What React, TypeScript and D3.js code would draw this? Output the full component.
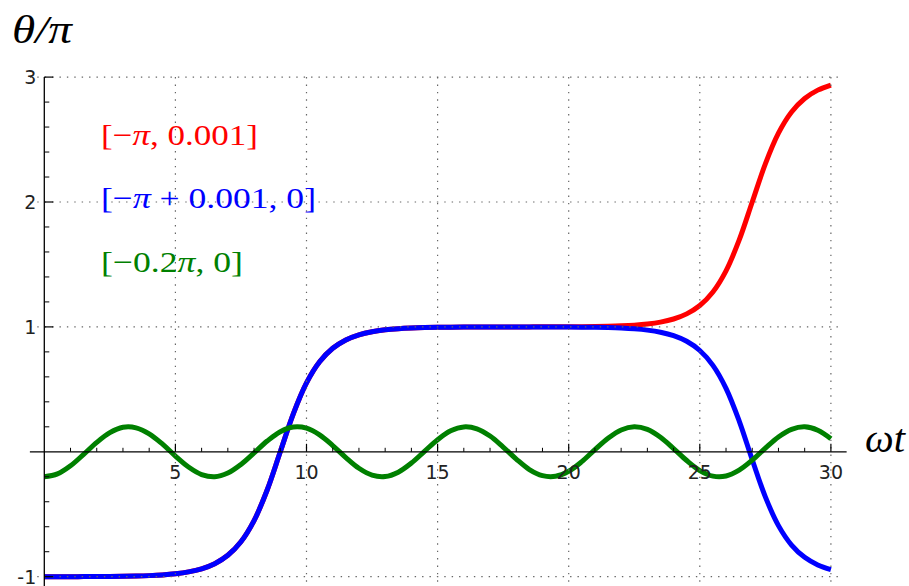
import React from "react";
import * as d3 from "d3";

const tValues = [
  0, 0.5, 1, 1.5, 2, 2.5, 3, 3.5, 4, 4.5, 5, 5.5, 6, 6.5, 7, 7.5, 8, 8.5, 9, 9.5,
  10, 10.5, 11, 11.5, 12, 12.5, 13, 13.5, 14, 14.5, 15, 15.5, 16, 16.5, 17, 17.5,
  18, 18.5, 19, 19.5, 20, 20.5, 21, 21.5, 22, 22.5, 23, 23.5, 24, 24.5, 25, 25.5,
  26, 26.5, 27, 27.5, 28, 28.5, 29, 29.5, 30,
];

const redSeries = [
  -1.0, -1.0, -0.9996, -0.9993, -0.9988, -0.9981, -0.9968, -0.9948, -0.9914, -0.9859,
  -0.9767, -0.9616, -0.9367, -0.8957, -0.8287, -0.7205, -0.5512, -0.3057, 0.0, 0.3057,
  0.5512, 0.7205, 0.8287, 0.8957, 0.9367, 0.9616, 0.9767, 0.9859, 0.9914, 0.9948,
  0.9968, 0.9981, 0.9988, 0.9993, 0.9996, 0.9998, 1.0, 1.0002, 1.0004, 1.0007,
  1.0012, 1.0019, 1.0032, 1.0052, 1.0086, 1.0141, 1.0233, 1.0384, 1.0633, 1.1043,
  1.1713, 1.2795, 1.4488, 1.6943, 2.0, 2.3057, 2.5512, 2.7205, 2.8287, 2.8957, 2.9367,
];

const blueSeries = [
  -1.0, -1.0, -0.9996, -0.9993, -0.9988, -0.9981, -0.9968, -0.9948, -0.9914, -0.9859,
  -0.9767, -0.9616, -0.9367, -0.8957, -0.8287, -0.7205, -0.5512, -0.3057, 0.0, 0.3057,
  0.5512, 0.7205, 0.8287, 0.8957, 0.9367, 0.9616, 0.9767, 0.9859, 0.9914, 0.9948,
  0.9968, 0.9981, 0.9988, 0.9993, 0.9995, 0.9996, 0.9997, 0.9996, 0.9995, 0.9992,
  0.9987, 0.9979, 0.9965, 0.9942, 0.9905, 0.9844, 0.9742, 0.9575, 0.93, 0.8848,
  0.811, 0.6922, 0.508, 0.2481, -0.0636, -0.361, -0.5909, -0.7463, -0.8449, -0.9056, -0.9427,
];

const greenSeries = [
  -0.2, -0.177, -0.112, -0.021, 0.075, 0.153, 0.196, 0.192, 0.144, 0.063,
  -0.034, -0.122, -0.182, -0.2, -0.17, -0.101, -0.009, 0.086, 0.161, 0.198,
  0.189, 0.135, 0.05, -0.046, -0.132, -0.187, -0.198, -0.163, -0.09, 0.004,
  0.097, 0.168, 0.199, 0.184, 0.126, 0.038, -0.058, -0.142, -0.191, -0.196,
  -0.156, -0.079, 0.017, 0.108, 0.175, 0.2, 0.179, 0.116, 0.026, -0.07,
  -0.15, -0.195, -0.194, -0.147, -0.067, 0.029, 0.119, 0.18, 0.2, 0.173, 0.105,
];

const xMajorTicks = [5, 10, 15, 20, 25, 30];
const xTickLabels = ["5", "10", "15", "20", "25", "30"];
const yMajorTicks = [-1, 1, 2, 3];
const yTickLabels = ["-1", "1", "2", "3"];

const seriesColors = ["#ff0000", "#0000ff", "#008000"];

export default function App() {
  const W = 909;
  const H = 586;
  const x = d3.scaleLinear().domain([0, 30]).range([44.3, 44.3 + 26.22 * 30]);
  const y = d3.scaleLinear().domain([-1, 3]).range([576.7, 77.1]);

  const xMin = -0.55;
  const xMax = 30.6;
  const yBottom = -1.2;

  const line = d3
    .line<number>()
    .x((_, i) => x(tValues[i]))
    .y((d) => y(d))
    .curve(d3.curveCatmullRom);

  const xMinor = d3.range(1, 31).filter((v) => v % 5 !== 0);
  const yMinor = d3
    .range(-5, 16)
    .map((v) => v / 5)
    .filter((v) => Math.abs(v - Math.round(v)) > 1e-6);

  const gridColor = "#666";
  const dash = "1.4 6";
  const tickFont = "'DejaVu Sans', sans-serif";
  const mathFont = "'Liberation Serif', 'DejaVu Serif', serif";

  return (
    <svg width={W} height={H} style={{ position: "absolute", left: 0, top: 0 }}>
      <rect x={0} y={0} width={W} height={H} fill="#ffffff" />

      {/* curves */}
      <path d={line(redSeries) || ""} fill="none" stroke={seriesColors[0]} strokeWidth={5} />
      <path d={line(blueSeries) || ""} fill="none" stroke={seriesColors[1]} strokeWidth={5} />
      <path d={line(greenSeries) || ""} fill="none" stroke={seriesColors[2]} strokeWidth={5} />

      {/* grid */}
      {xMajorTicks.map((v) => (
        <line
          key={"gx" + v}
          x1={x(v)}
          x2={x(v)}
          y1={y(3)}
          y2={y(yBottom)}
          stroke={gridColor}
          strokeWidth={1.2}
          strokeDasharray={dash}
        />
      ))}
      {yMajorTicks.map((v) => (
        <line
          key={"gy" + v}
          x1={x(xMin)}
          x2={x(30.45)}
          y1={y(v)}
          y2={y(v)}
          stroke={gridColor}
          strokeWidth={1.2}
          strokeDasharray={dash}
        />
      ))}

      {/* axes */}
      <line x1={x(xMin)} x2={x(xMax)} y1={y(0)} y2={y(0)} stroke="#000" strokeWidth={1.3} />
      <line x1={x(0)} x2={x(0)} y1={y(3)} y2={y(yBottom)} stroke="#000" strokeWidth={1.3} />

      {xMajorTicks.map((v) => (
        <line key={"xt" + v} x1={x(v)} x2={x(v)} y1={y(0)} y2={y(0) - 8} stroke="#000" strokeWidth={1.2} />
      ))}
      {xMinor.map((v) => (
        <line key={"xm" + v} x1={x(v)} x2={x(v)} y1={y(0)} y2={y(0) - 4} stroke="#000" strokeWidth={1} />
      ))}
      {yMajorTicks.map((v) => (
        <line key={"yt" + v} x1={x(0)} x2={x(0) + 9} y1={y(v)} y2={y(v)} stroke="#000" strokeWidth={1.2} />
      ))}
      {yMinor.map((v) => (
        <line key={"ym" + v} x1={x(0)} x2={x(0) + 5} y1={y(v)} y2={y(v)} stroke="#000" strokeWidth={1} />
      ))}

      {/* tick labels */}
      {xMajorTicks.map((v, i) => (
        <text
          key={"xl" + v}
          x={x(v)}
          y={y(0) + 27}
          textAnchor="middle"
          fontFamily={tickFont}
          fontSize={19}
          fill="#222"
        >
          {xTickLabels[i]}
        </text>
      ))}
      {yMajorTicks.map((v, i) => (
        <text
          key={"yl" + v}
          x={x(0) - 8}
          y={y(v) + 6.8}
          textAnchor="end"
          fontFamily={tickFont}
          fontSize={19}
          fill="#222"
        >
          {yTickLabels[i]}
        </text>
      ))}

      {/* axis labels */}
      <text x={12} y={43} fontFamily={mathFont} fontStyle="italic" fontSize={40} fill="#000" textLength={60} lengthAdjust="spacingAndGlyphs">
        θ/π
      </text>
      <text x={865} y={452} fontFamily={mathFont} fontStyle="italic" fontSize={40} fill="#000" textLength={40} lengthAdjust="spacingAndGlyphs">
        ωt
      </text>

      {/* legend */}
      <text x={101} y={145} fontFamily={mathFont} fontSize={30} fill={seriesColors[0]} textLength={157} lengthAdjust="spacingAndGlyphs">
        [−<tspan fontStyle="italic">π</tspan>, 0.001]
      </text>
      <text x={101} y={208} fontFamily={mathFont} fontSize={30} fill={seriesColors[1]} textLength={215} lengthAdjust="spacingAndGlyphs">
        [−<tspan fontStyle="italic">π</tspan> + 0.001, 0]
      </text>
      <text x={101} y={272} fontFamily={mathFont} fontSize={30} fill={seriesColors[2]} textLength={142} lengthAdjust="spacingAndGlyphs">
        [−0.2<tspan fontStyle="italic">π</tspan>, 0]
      </text>
    </svg>
  );
}
